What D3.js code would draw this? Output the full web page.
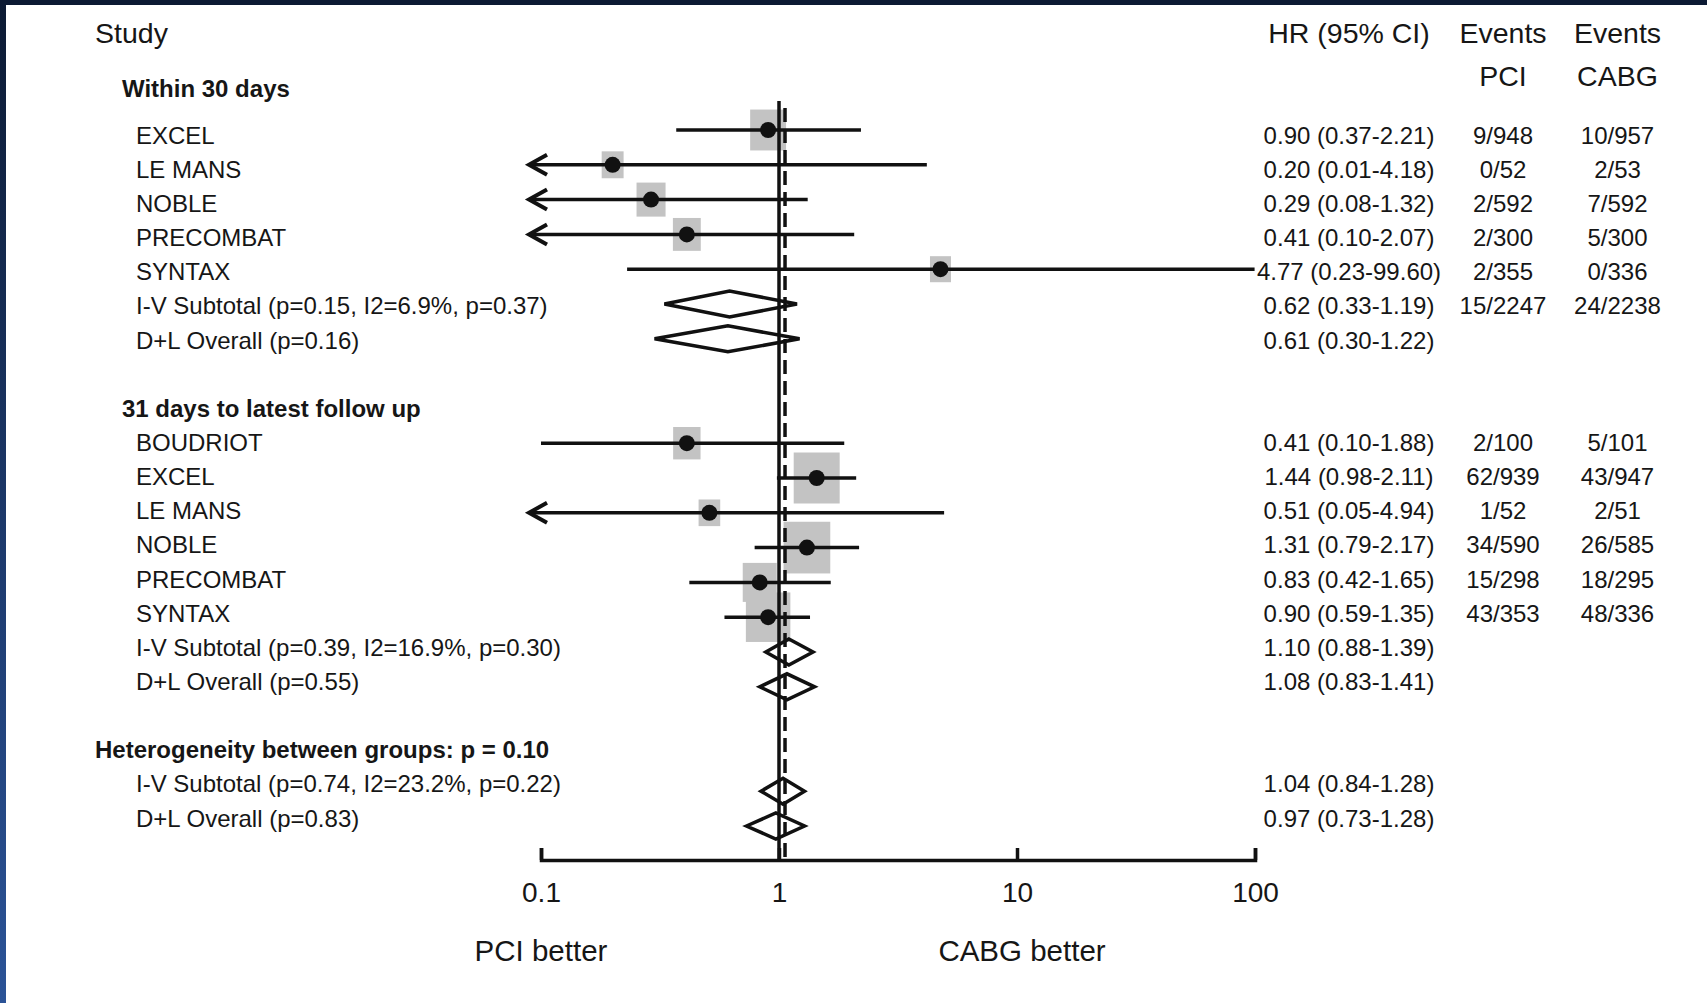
<!DOCTYPE html>
<html>
<head>
<meta charset="utf-8">
<title>Forest plot - PCI vs CABG</title>
<script src="https://cdn.jsdelivr.net/npm/d3@7"></script>
<style>
	body { margin: 0; background: #fff; overflow: hidden; }
	svg text { font-family: "Liberation Sans", Arial, sans-serif; fill: #161616; }
</style>
</head>
<body>
<div id="chart"></div>
<script>
// ---- data ----
const groupLabels = ['Within 30 days', '31 days to latest follow up'];

const studies30 = ['EXCEL', 'LE MANS', 'NOBLE', 'PRECOMBAT', 'SYNTAX'];
const hr30 = [0.90, 0.20, 0.29, 0.41, 4.77];
const lower30 = [0.37, 0.01, 0.08, 0.099, 0.23];
const upper30 = [2.21, 4.18, 1.32, 2.07, 99.60];
const weight30 = [10.3, 4.1, 6.9, 6.4, 3.8];
const eventsPci30 = ['9/948', '0/52', '2/592', '2/300', '2/355'];
const eventsCabg30 = ['10/957', '2/53', '7/592', '5/300', '0/336'];

const pooledLabels30 = ['I-V Subtotal (p=0.15, I2=6.9%, p=0.37)', 'D+L Overall (p=0.16)'];
const pooledHr30 = [0.62, 0.61];
const pooledLower30 = [0.33, 0.30];
const pooledUpper30 = [1.19, 1.22];
const pooledPci30 = ['15/2247', ''];
const pooledCabg30 = ['24/2238', ''];

const studies31 = ['BOUDRIOT', 'EXCEL', 'LE MANS', 'NOBLE', 'PRECOMBAT', 'SYNTAX'];
const hr31 = [0.41, 1.44, 0.51, 1.31, 0.83, 0.90];
const lower31 = [0.10, 0.98, 0.05, 0.79, 0.42, 0.59];
const upper31 = [1.88, 2.11, 4.94, 2.17, 1.65, 1.35];
const weight31 = [6.2, 16.5, 4.0, 17.0, 9.3, 15.5];
const eventsPci31 = ['2/100', '62/939', '1/52', '34/590', '15/298', '43/353'];
const eventsCabg31 = ['5/101', '43/947', '2/51', '26/585', '18/295', '48/336'];

const pooledLabels31 = ['I-V Subtotal (p=0.39, I2=16.9%, p=0.30)', 'D+L Overall (p=0.55)'];
const pooledHr31 = [1.10, 1.08];
const pooledLower31 = [0.88, 0.83];
const pooledUpper31 = [1.39, 1.41];

const heterogeneityLabel = 'Heterogeneity between groups: p = 0.10';
const pooledLabelsAll = ['I-V Subtotal (p=0.74, I2=23.2%, p=0.22)', 'D+L Overall (p=0.83)'];
const pooledHrAll = [1.04, 0.97];
const pooledLowerAll = [0.84, 0.73];
const pooledUpperAll = [1.28, 1.28];

const overallEstimate = 1.06;
const xTicks = [0.1, 1, 10, 100];
const xTickLabels = ['0.1', '1', '10', '100'];
const favourLabels = ['PCI better', 'CABG better'];
const favourAt = [0.1, 10];
const columnTitles = ['HR (95% CI)', 'Events', 'Events'];
const columnSubtitles = ['', 'PCI', 'CABG'];

// ---- layout ----
const WIDTH = 1707;
const HEIGHT = 1003;
const PLOT = {left: 541, right: 1255, top: 101, axis: 860};
const COL = {title: 95, group: 122, label: 136, hr: 1349, pci: 1503, cabg: 1617.5};
const MARK_ROW = {y0: 130, step: 34.8};
const TEXT_ROW = {y0: 135, step: 34.15};
const FIRST_HEADER_ROW = -1.38;
const INK = '#111';

class ForestPlot {
	constructor(id) {
		this.svg = d3.select(`#${id}`).append('svg')
						.attr('width', WIDTH)
						.attr('height', HEIGHT);
		this.init();
	}

	init() {
		this.xScale = d3.scaleLog()
						.domain([0.1, 100])
						.range([PLOT.left, PLOT.right]);

		// marks and text drift apart slightly in the original, keep both
		this.yMark = i => MARK_ROW.y0 + MARK_ROW.step * i;
		this.yText = i => TEXT_ROW.y0 + TEXT_ROW.step * i;

		this.boxScale = d3.scaleSqrt()
						.domain([0, 17])
						.range([0, 48.7]);

		this.rows = this.buildRows();

		this.renderFrame();
		this.renderBoxes();
		this.renderReference();
		this.renderIntervals();
		this.renderDiamonds();
		this.renderAxis();
		this.renderText();
	}

	buildRows() {
		let rows = [];
		rows.push({kind: 'group', idx: FIRST_HEADER_ROW, label: groupLabels[0]});
		studies30.forEach((s, i) => rows.push({
			kind: 'study', idx: i, label: s, hr: hr30[i], lo: lower30[i], hi: upper30[i],
			w: weight30[i], pci: eventsPci30[i], cabg: eventsCabg30[i]
		}));
		pooledLabels30.forEach((s, i) => rows.push({
			kind: 'pooled', idx: studies30.length + i, label: s, hr: pooledHr30[i],
			lo: pooledLower30[i], hi: pooledUpper30[i], pci: pooledPci30[i], cabg: pooledCabg30[i]
		}));

		let start = studies30.length + pooledLabels30.length + 1;
		rows.push({kind: 'group', idx: start, label: groupLabels[1]});
		studies31.forEach((s, i) => rows.push({
			kind: 'study', idx: start + 1 + i, label: s, hr: hr31[i], lo: lower31[i], hi: upper31[i],
			w: weight31[i], pci: eventsPci31[i], cabg: eventsCabg31[i]
		}));
		pooledLabels31.forEach((s, i) => rows.push({
			kind: 'pooled', idx: start + 1 + studies31.length + i, label: s, hr: pooledHr31[i],
			lo: pooledLower31[i], hi: pooledUpper31[i], pci: '', cabg: ''
		}));

		start = start + 1 + studies31.length + pooledLabels31.length + 1;
		rows.push({kind: 'title', idx: start, label: heterogeneityLabel});
		pooledLabelsAll.forEach((s, i) => rows.push({
			kind: 'pooled', idx: start + 1 + i, label: s, hr: pooledHrAll[i],
			lo: pooledLowerAll[i], hi: pooledUpperAll[i], pci: '', cabg: ''
		}));
		return rows;
	}

	renderFrame() {
		let grad = this.svg.append('defs').append('linearGradient')
						.attr('id', 'edge')
						.attr('x1', 0).attr('y1', 0).attr('x2', 0).attr('y2', 1);
		grad.append('stop').attr('offset', '0%').attr('stop-color', '#0c1a33');
		grad.append('stop').attr('offset', '55%').attr('stop-color', '#1d3a6d');
		grad.append('stop').attr('offset', '100%').attr('stop-color', '#2b5397');

		this.svg.append('rect')
					.attr('width', WIDTH).attr('height', HEIGHT)
					.attr('fill', '#fff');
		this.svg.append('rect')
					.attr('width', WIDTH).attr('height', 5)
					.attr('fill', '#0c1a33');
		this.svg.append('rect')
					.attr('width', 6).attr('height', HEIGHT)
					.attr('fill', 'url(#edge)');
	}

	renderBoxes() {
		let studies = this.rows.filter(d => d.kind === 'study');
		this.svg.append('g')
					.attr('class', 'boxes')
					.selectAll('rect')
					.data(studies)
					.join('rect')
					.attr('x', d => this.xScale(d.hr) - (this.boxScale(d.w) - 2) / 2)
					.attr('y', d => this.yMark(d.idx) - (this.boxScale(d.w) + 3) / 2)
					.attr('width', d => this.boxScale(d.w) - 2)
					.attr('height', d => this.boxScale(d.w) + 3)
					.attr('fill', '#c3c3c3');
	}

	renderReference() {
		let x1 = this.xScale(1);
		let xo = this.xScale(overallEstimate);
		this.svg.append('line')
					.attr('x1', x1).attr('x2', x1)
					.attr('y1', PLOT.top).attr('y2', PLOT.axis)
					.attr('stroke', INK).attr('stroke-width', 3.5);
		this.svg.append('line')
					.attr('x1', xo).attr('x2', xo)
					.attr('y1', PLOT.top + 7).attr('y2', PLOT.axis)
					.attr('stroke', INK).attr('stroke-width', 3.5)
					.attr('stroke-dasharray', '14,7');
	}

	renderIntervals() {
		let studies = this.rows.filter(d => d.kind === 'study');
		let [xMin] = this.xScale.range();
		let tip = xMin - 12;
		let g = this.svg.append('g').attr('class', 'intervals');

		g.selectAll('line')
			.data(studies)
			.join('line')
			.attr('x1', d => d.lo < 0.1 ? tip : this.xScale(d.lo))
			.attr('x2', d => this.xScale(Math.min(d.hi, 100)))
			.attr('y1', d => this.yMark(d.idx))
			.attr('y2', d => this.yMark(d.idx))
			.attr('stroke', INK).attr('stroke-width', 3.5);

		// open arrow heads for intervals running off the left edge
		g.selectAll('path')
			.data(studies.filter(d => d.lo < 0.1))
			.join('path')
			.attr('d', d => {
				let y = this.yMark(d.idx);
				return `M${tip + 18},${y - 10}L${tip},${y}L${tip + 18},${y + 10}`;
			})
			.attr('fill', 'none')
			.attr('stroke', INK).attr('stroke-width', 4);

		g.selectAll('circle')
			.data(studies)
			.join('circle')
			.attr('cx', d => this.xScale(d.hr))
			.attr('cy', d => this.yMark(d.idx))
			.attr('r', 8)
			.attr('fill', INK);
	}

	renderDiamonds() {
		let pooled = this.rows.filter(d => d.kind === 'pooled');
		this.svg.append('g')
					.attr('class', 'diamonds')
					.selectAll('path')
					.data(pooled)
					.join('path')
					.attr('d', d => {
						let y = this.yMark(d.idx);
						return `M${this.xScale(d.lo)},${y}L${this.xScale(d.hr)},${y - 13}` +
							`L${this.xScale(d.hi)},${y}L${this.xScale(d.hr)},${y + 13}Z`;
					})
					.attr('fill', 'none')
					.attr('stroke', INK).attr('stroke-width', 3.5)
					.attr('stroke-linejoin', 'miter');
	}

	renderAxis() {
		let xAxis = d3.axisBottom()
						.scale(this.xScale)
						.tickValues(xTicks)
						.tickFormat((d, i) => xTickLabels[i])
						.tickSizeInner(-12)
						.tickSizeOuter(-12)
						.tickPadding(22);

		let g = this.svg.append('g')
					.attr('class', 'x axis')
					.attr('transform', `translate(0, ${PLOT.axis})`)
					.call(xAxis);

		g.select('.domain').attr('stroke', INK).attr('stroke-width', 3.5);
		g.selectAll('.tick line').attr('stroke', INK).attr('stroke-width', 3.5);
		g.selectAll('.tick text')
			.attr('font-size', 28)
			.attr('font-family', '"Liberation Sans", Arial, sans-serif')
			.attr('fill', '#161616');

		this.svg.append('g')
					.attr('class', 'favours')
					.selectAll('text')
					.data(favourLabels)
					.join('text')
					.attr('x', (d, i) => this.xScale(favourAt[i]) + (i ? 5 : 0))
					.attr('y', 950)
					.attr('dy', '0.36em')
					.attr('text-anchor', 'middle')
					.attr('font-size', 29.5)
					.text(d => d);
	}

	renderText() {
		let fmt = d3.format('.2f');

		// column headers
		let headX = [COL.hr, COL.pci, COL.cabg];
		let g = this.svg.append('g').attr('class', 'headers');
		g.append('text')
			.attr('x', COL.title).attr('y', this.yText(-3)).attr('dy', '0.36em')
			.attr('font-size', 28.5).text('Study');
		g.selectAll('text.col')
			.data(columnTitles)
			.join('text')
			.attr('class', 'col')
			.attr('x', (d, i) => headX[i]).attr('y', this.yText(-3)).attr('dy', '0.36em')
			.attr('text-anchor', 'middle').attr('font-size', 28.5)
			.text(d => d);
		g.selectAll('text.sub')
			.data(columnSubtitles)
			.join('text')
			.attr('class', 'sub')
			.attr('x', (d, i) => headX[i]).attr('y', this.yText(-1.73)).attr('dy', '0.36em')
			.attr('text-anchor', 'middle').attr('font-size', 28.5)
			.text(d => d);

		// row labels
		let labelX = d => d.kind === 'group' ? COL.group : d.kind === 'title' ? COL.title : COL.label;
		this.svg.append('g')
					.attr('class', 'labels')
					.selectAll('text')
					.data(this.rows)
					.join('text')
					.attr('x', labelX)
					.attr('y', d => this.yText(d.idx))
					.attr('dy', '0.36em')
					.attr('font-size', 24)
					.attr('font-weight', d => d.kind === 'group' || d.kind === 'title' ? 'bold' : 'normal')
					.text(d => d.label);

		let valued = this.rows.filter(d => d.hr !== undefined);
		let cols = this.svg.append('g').attr('class', 'values');
		cols.selectAll('text.hr')
			.data(valued)
			.join('text')
			.attr('class', 'hr')
			.attr('x', COL.hr).attr('y', d => this.yText(d.idx)).attr('dy', '0.36em')
			.attr('text-anchor', 'middle').attr('font-size', 24)
			.text(d => `${fmt(d.hr)} (${fmt(d.lo)}-${fmt(d.hi)})`);
		cols.selectAll('text.pci')
			.data(valued)
			.join('text')
			.attr('class', 'pci')
			.attr('x', COL.pci).attr('y', d => this.yText(d.idx)).attr('dy', '0.36em')
			.attr('text-anchor', 'middle').attr('font-size', 24)
			.text(d => d.pci);
		cols.selectAll('text.cabg')
			.data(valued)
			.join('text')
			.attr('class', 'cabg')
			.attr('x', COL.cabg).attr('y', d => this.yText(d.idx)).attr('dy', '0.36em')
			.attr('text-anchor', 'middle').attr('font-size', 24)
			.text(d => d.cabg);
	}
}

new ForestPlot('chart');
</script>
</body>
</html>
